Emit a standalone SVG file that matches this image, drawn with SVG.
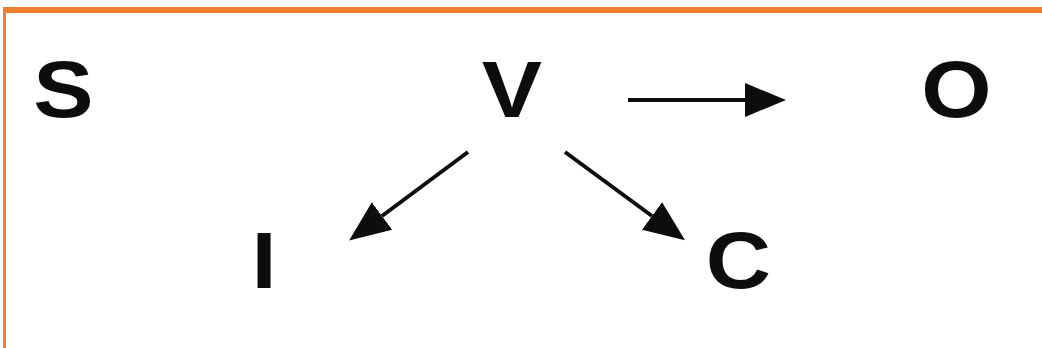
<svg xmlns="http://www.w3.org/2000/svg" width="1042" height="348" viewBox="0 0 1042 348">
<style>
.lbl{font-family:"Liberation Sans",Arial,sans-serif;font-weight:bold;font-size:80px;fill:#0d0d0d;text-anchor:middle}
.con{stroke:#0d0d0d;stroke-width:4;fill:none}
</style>
<defs>
<marker id="ah" markerUnits="userSpaceOnUse" markerWidth="42" markerHeight="36" refX="0" refY="18" orient="auto" viewBox="0 0 42 36">
<path d="M0,1 L41,18 L0,35 Z" fill="#0d0d0d"/>
</marker>
</defs>
<rect width="1042" height="348" fill="#fff"/>
<g id="frame">
<rect x="3" y="7" width="1039" height="6" fill="#EF7F31"/>
<rect x="3" y="7" width="3" height="341" fill="#EF7F31"/>
</g>
<g id="node-S"><text class="lbl" transform="translate(63.5,117) scale(1.13,1)">S</text></g>
<g id="node-V"><text class="lbl" transform="translate(512,117) scale(1.13,1)">V</text></g>
<g id="node-O"><text class="lbl" transform="translate(956.5,117) scale(1.13,1)">O</text></g>
<g id="node-I"><text class="lbl" transform="translate(264,288) scale(1.13,1)">I</text></g>
<g id="node-C"><text class="lbl" transform="translate(738.5,288) scale(1.13,1)">C</text></g>
<g id="connectors">
<line class="con" x1="628" y1="100" x2="745" y2="100" marker-end="url(#ah)"/>
<line class="con" x1="468" y1="152" x2="382" y2="216" marker-end="url(#ah)"/>
<line class="con" x1="565" y1="152" x2="652" y2="216" marker-end="url(#ah)"/>
</g>
</svg>
